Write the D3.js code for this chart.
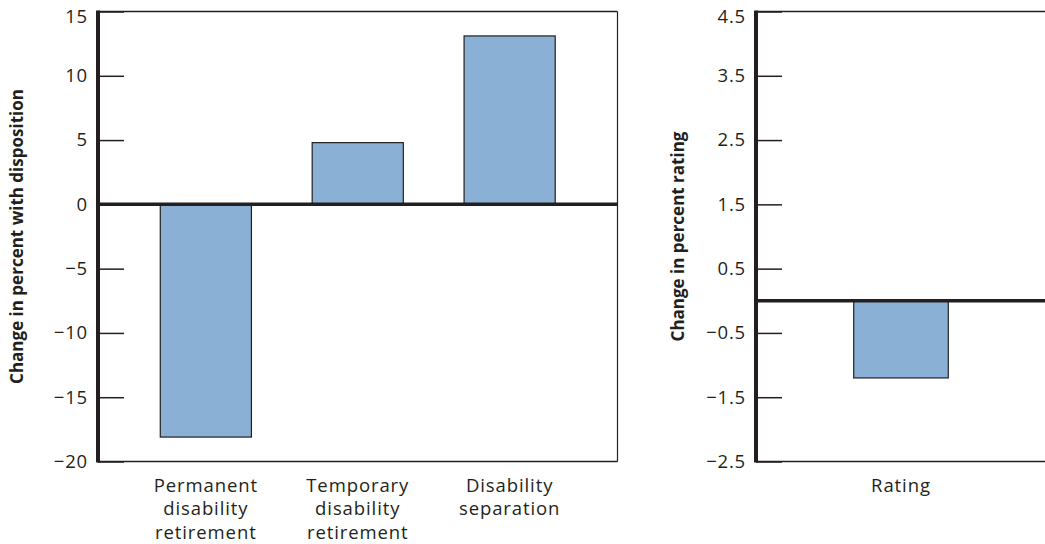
<!DOCTYPE html>
<html>
<head>
<meta charset="utf-8">
<script src="https://cdn.jsdelivr.net/npm/d3@7"></script>
<style>
  html, body { margin: 0; padding: 0; background: #fff; }
  svg { display: block; }
  text { font-family: "Open Sans", "Noto Sans", sans-serif; fill: #231f20; }
</style>
</head>
<body>
<svg id="chart" width="1045" height="544"></svg>
<script>
// ---- data ----
const dispCategories = [["Permanent", "disability", "retirement"], ["Temporary", "disability", "retirement"], ["Disability", "separation"]];
const dispKeys = ["Permanent disability retirement", "Temporary disability retirement", "Disability separation"];
const dispValues = [-18.1, 4.8, 13.1];
const dispTicks = [15, 10, 5, 0, -5, -10, -15, -20];

const ratingCategories = [["Rating"]];
const ratingKeys = ["Rating"];
const ratingValues = [-1.2];
const ratingTicks = [4.5, 3.5, 2.5, 1.5, 0.5, -0.5, -1.5, -2.5];

const leftTitle = "Change in percent with disposition";
const rightTitle = "Change in percent rating";

// ---- drawing ----
const svg = d3.select("#chart");
const INK = "#231f20";
const BAR = "#8bb0d6";
const TOP = 11.5, BOTTOM = 461.5;

function panel(opts) {
  const g = svg.append("g");
  const y = d3.scaleLinear().domain(opts.domain).range([BOTTOM, TOP]);
  const x = d3.scaleBand().domain(opts.keys).range([opts.x0, opts.x1])
    .paddingInner(0.4).paddingOuter(opts.po);

  // frame (top, right, bottom)
  g.append("line").attr("x1", opts.x0).attr("x2", opts.frameRight)
    .attr("y1", TOP).attr("y2", TOP).attr("stroke", INK).attr("stroke-width", 1.5);
  g.append("line").attr("x1", opts.x0).attr("x2", opts.frameRight)
    .attr("y1", BOTTOM).attr("y2", BOTTOM).attr("stroke", INK).attr("stroke-width", 1.5);
  if (opts.frameRight < 1045) {
    g.append("line").attr("x1", opts.frameRight).attr("x2", opts.frameRight)
      .attr("y1", TOP).attr("y2", BOTTOM).attr("stroke", INK).attr("stroke-width", 1.2);
  }

  // bars
  g.selectAll("rect.bar").data(opts.values).join("rect")
    .attr("class", "bar")
    .attr("x", (d, i) => x(opts.keys[i]))
    .attr("width", x.bandwidth())
    .attr("y", d => y(Math.max(0, d)))
    .attr("height", d => Math.abs(y(d) - y(0)))
    .attr("fill", BAR).attr("stroke", INK).attr("stroke-width", 1.2);

  // y axis
  const axis = d3.axisLeft(y).tickValues(opts.ticks).tickFormat(opts.fmt)
    .tickSize(-26).tickPadding(10);
  const ag = g.append("g").attr("transform", `translate(${opts.x0},0)`).call(axis);
  ag.select(".domain").remove();
  ag.selectAll(".tick line").attr("stroke", INK).attr("stroke-width", 1.5);
  ag.selectAll(".tick text").attr("fill", INK).style("font-size", "18.5px")
    .style("font-family", '"Open Sans", sans-serif').style("letter-spacing", "0.8px");
  // the top label sits just below the frame line, as in the reference
  ag.selectAll(".tick text").filter(d => d === opts.domain[1]).attr("dy", "0.6em");
  g.append("line").attr("x1", opts.x0).attr("x2", opts.x0)
    .attr("y1", TOP - 1).attr("y2", BOTTOM + 1).attr("stroke", INK).attr("stroke-width", 4);

  // zero line
  g.append("line").attr("x1", opts.x0).attr("x2", opts.frameRight)
    .attr("y1", y(0)).attr("y2", y(0)).attr("stroke", INK).attr("stroke-width", 3.5);

  // category labels
  opts.cats.forEach((lines, i) => {
    const cx = x(opts.keys[i]) + x.bandwidth() / 2;
    const t = g.append("text").attr("text-anchor", "middle")
      .style("font-size", "18.5px").style("letter-spacing", "0.9px");
    lines.forEach((ln, j) => {
      t.append("tspan").attr("x", cx).attr("y", 492 + j * 23.3).text(ln);
    });
  });

  // y title
  g.append("text")
    .attr("transform", `translate(${opts.titleX},${(TOP + BOTTOM) / 2}) rotate(-90)`)
    .attr("text-anchor", "middle")
    .style("font-size", "17px").style("font-weight", "bold")
    .text(opts.title);
}

panel({
  keys: dispKeys, cats: dispCategories, values: dispValues, ticks: dispTicks,
  domain: [-20, 15], x0: 98, x1: 617.5, frameRight: 617.5, po: 0.41,
  fmt: d3.format("d"), title: leftTitle, titleX: 23
});

panel({
  keys: ratingKeys, cats: ratingCategories, values: ratingValues, ticks: ratingTicks,
  domain: [-2.5, 4.5], x0: 756, x1: 1046, frameRight: 1046, po: 0.62,
  fmt: d3.format(".1f"), title: rightTitle, titleX: 684
});
</script>
</body>
</html>
